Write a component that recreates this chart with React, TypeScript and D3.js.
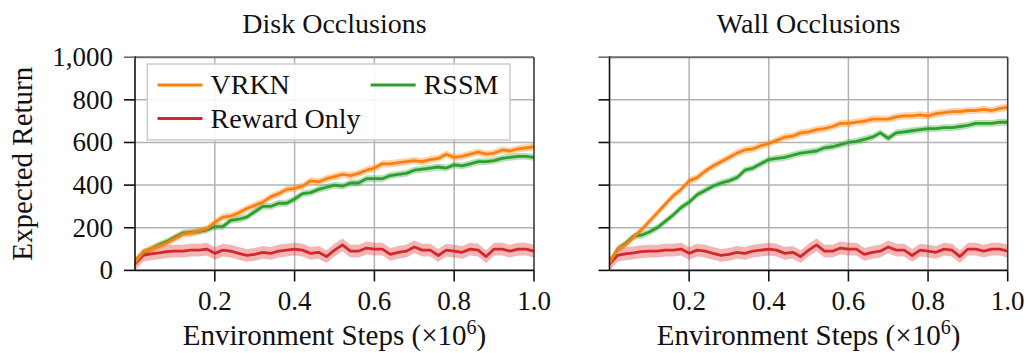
import React, { useEffect, useState } from "react";
import * as d3 from "d3";

const steps = [0, 0.02, 0.04, 0.06, 0.08, 0.1, 0.12, 0.14, 0.16, 0.18, 0.2, 0.22, 0.24, 0.26, 0.28, 0.3, 0.32, 0.34, 0.36, 0.38, 0.4, 0.42, 0.44, 0.46, 0.48, 0.5, 0.52, 0.54, 0.56, 0.58, 0.6, 0.62, 0.64, 0.66, 0.68, 0.7, 0.72, 0.74, 0.76, 0.78, 0.8, 0.82, 0.84, 0.86, 0.88, 0.9, 0.92, 0.94, 0.96, 0.98, 1.0];

const diskVRKN = [35, 85, 100, 115, 130, 150, 170, 175, 185, 195, 225, 250, 255, 270, 290, 305, 320, 345, 360, 380, 385, 395, 420, 415, 430, 440, 450, 445, 455, 470, 480, 500, 500, 505, 510, 515, 510, 520, 525, 545, 530, 535, 545, 555, 545, 550, 565, 560, 570, 575, 580];
const diskRSSM = [40, 80, 100, 120, 135, 155, 175, 178, 182, 190, 205, 205, 235, 240, 250, 275, 300, 300, 315, 315, 335, 360, 365, 380, 390, 400, 395, 410, 410, 430, 430, 430, 445, 450, 455, 470, 475, 480, 485, 480, 495, 490, 500, 510, 510, 515, 525, 530, 535, 535, 530];
const rewardOnly = [30, 70, 78, 82, 88, 90, 90, 95, 95, 100, 80, 95, 90, 80, 70, 75, 85, 80, 90, 95, 100, 95, 80, 85, 65, 95, 120, 90, 90, 105, 100, 100, 75, 85, 90, 110, 95, 95, 70, 95, 90, 85, 100, 95, 65, 100, 100, 90, 100, 100, 90];

const wallVRKN = [35, 100, 120, 155, 190, 230, 270, 310, 350, 380, 420, 435, 465, 490, 510, 530, 550, 565, 570, 585, 595, 610, 625, 630, 645, 650, 660, 665, 675, 690, 690, 695, 700, 710, 710, 710, 720, 725, 725, 730, 725, 735, 740, 745, 745, 750, 750, 755, 750, 760, 765];
const wallRSSM = [35, 100, 125, 160, 165, 180, 200, 230, 260, 295, 320, 355, 375, 395, 410, 420, 435, 470, 480, 500, 520, 525, 530, 540, 550, 555, 560, 575, 580, 590, 600, 605, 615, 625, 645, 620, 645, 650, 655, 660, 665, 665, 670, 670, 675, 680, 690, 690, 690, 695, 695];

const spreadVRKN = 17;
const spreadRSSM = 16;
const spreadReward = 30;

const yTicks = [0, 200, 400, 600, 800, 1000];
const xTicks = [0.2, 0.4, 0.6, 0.8, 1.0];

const COLORS = { VRKN: "#ff7f0e", RSSM: "#2ca02c", Reward: "#d62728" };
const FONT = "Times New Roman";

type Series = { name: string; values: number[]; spread: number; color: string };

const panels: { title: string; series: Series[]; x0: number; x1: number }[] = [
  {
    title: "Disk Occlusions",
    x0: 135,
    x1: 534,
    series: [
      { name: "Reward Only", values: rewardOnly, spread: spreadReward, color: COLORS.Reward },
      { name: "RSSM", values: diskRSSM, spread: spreadRSSM, color: COLORS.RSSM },
      { name: "VRKN", values: diskVRKN, spread: spreadVRKN, color: COLORS.VRKN },
    ],
  },
  {
    title: "Wall Occlusions",
    x0: 609.5,
    x1: 1007.7,
    series: [
      { name: "Reward Only", values: rewardOnly, spread: spreadReward, color: COLORS.Reward },
      { name: "RSSM", values: wallRSSM, spread: spreadRSSM, color: COLORS.RSSM },
      { name: "VRKN", values: wallVRKN, spread: spreadVRKN, color: COLORS.VRKN },
    ],
  },
];

const Y_TOP = 57.2;
const Y_BOT = 270.4;

function Panel({ p, idx }: { p: (typeof panels)[0]; idx: number }) {
  const x = d3.scaleLinear().domain([0, 1]).range([p.x0, p.x1]);
  const y = d3.scaleLinear().domain([0, 1000]).range([Y_BOT, Y_TOP]);
  const clipId = `clip${idx}`;
  const line = d3
    .line<number>()
    .x((_, i) => x(steps[i]))
    .y((d) => y(d));
  const area = (s: Series) =>
    d3
      .area<number>()
      .x((_, i) => x(steps[i]))
      .y0((d) => y(d - s.spread))
      .y1((d) => y(d + s.spread))(s.values) as string;
  const cx = (p.x0 + p.x1) / 2;
  return (
    <g>
      <defs>
        <clipPath id={clipId}>
          <rect x={p.x0} y={Y_TOP} width={p.x1 - p.x0} height={Y_BOT - Y_TOP} />
        </clipPath>
      </defs>
      {yTicks.slice(1, -1).map((t) => (
        <line key={"gy" + t} x1={p.x0} x2={p.x1} y1={y(t)} y2={y(t)} stroke="#b3b3b3" strokeWidth={1.5} />
      ))}
      {xTicks.slice(0, -1).map((t) => (
        <line key={"gx" + t} x1={x(t)} x2={x(t)} y1={Y_TOP} y2={Y_BOT} stroke="#b3b3b3" strokeWidth={1.5} />
      ))}
      <g clipPath={`url(#${clipId})`}>
        {p.series.map((s) => (
          <path key={"a" + s.name} d={area(s)} fill={s.color} opacity={0.34} stroke="none" />
        ))}
        {p.series.map((s) => (
          <path key={"l" + s.name} d={line(s.values) as string} fill="none" stroke={s.color} strokeWidth={2.8} strokeLinejoin="round" />
        ))}
      </g>
      <line x1={p.x0} x2={p.x1} y1={Y_TOP} y2={Y_TOP} stroke="#6b6b6b" strokeWidth={2} />
      <line x1={p.x1} x2={p.x1} y1={Y_TOP} y2={Y_BOT} stroke="#3a3a3a" strokeWidth={1.6} />
      <line x1={p.x0} x2={p.x0} y1={Y_TOP - 1} y2={Y_BOT} stroke="#111" strokeWidth={1.6} />
      <line x1={p.x0} x2={p.x1} y1={Y_BOT} y2={Y_BOT} stroke="#111" strokeWidth={1.6} />
      {yTicks.map((t) => (
        <g key={"yt" + t}>
          <line x1={p.x0 - 11} x2={p.x0} y1={y(t)} y2={y(t)} stroke={t === 1000 ? "#6b6b6b" : "#111"} strokeWidth={1.6} />
          {idx === 0 && (
            <text x={p.x0 - 22} y={y(t) + 9} textAnchor="end" fontFamily={FONT} fontSize={27} fill="#111">
              {d3.format(",")(t)}
            </text>
          )}
        </g>
      ))}
      {xTicks.map((t) => (
        <g key={"xt" + t}>
          <line x1={x(t)} x2={x(t)} y1={Y_BOT} y2={Y_BOT + 11} stroke="#111" strokeWidth={1.6} />
          <text x={x(t)} y={309.5} textAnchor="middle" fontFamily={FONT} fontSize={27} fill="#111">
            {d3.format(".1f")(t)}
          </text>
        </g>
      ))}
      <text x={cx} y={33} textAnchor="middle" fontFamily={FONT} fontSize={28} fill="#111">
        {p.title}
      </text>
      <text x={cx} y={345} textAnchor="middle" fontFamily={FONT} fontSize={29} fill="#111">
        Environment Steps (×10
        <tspan dy={-11} fontSize={20}>6</tspan>
        <tspan dy={11}>)</tspan>
      </text>
    </g>
  );
}

function Legend() {
  const items = [
    { name: "VRKN", color: COLORS.VRKN, lx: 157.5, ly: 85 },
    { name: "RSSM", color: COLORS.RSSM, lx: 370.7, ly: 85 },
    { name: "Reward Only", color: COLORS.Reward, lx: 157.5, ly: 118.5 },
  ];
  return (
    <g>
      <rect x={147.3} y={64} width={362.7} height={76} fill="white" fillOpacity={0.88} stroke="#cccccc" strokeWidth={1.5} />
      {items.map((it) => (
        <g key={it.name}>
          <line x1={it.lx} x2={it.lx + 45} y1={it.ly} y2={it.ly} stroke={it.color} strokeWidth={2.8} />
          <text x={it.lx + 53} y={it.ly + 9} fontFamily={FONT} fontSize={28} fill="#111">
            {it.name}
          </text>
        </g>
      ))}
    </g>
  );
}

export default function App() {
  const [gen, setGen] = useState(0);
  useEffect(() => {
    const fonts = (document as any).fonts;
    if (!fonts) return;
    const sizes = [20, 27, 28, 29];
    Promise.all(sizes.map((s) => fonts.load(`${s}px "${FONT}"`).catch(() => null)))
      .then(() => fonts.ready)
      .then(() => setGen((g) => g + 1))
      .catch(() => null);
  }, []);
  return (
    <svg key={gen} width={1026} height={353} fontFamily={FONT} style={{ position: "absolute", left: 0, top: 0, background: "white" }}>
      <rect x={0} y={0} width={1026} height={353} fill="white" />
      {panels.map((p, i) => (
        <Panel key={p.title} p={p} idx={i} />
      ))}
      <Legend />
      <text
        transform={`translate(31.5, ${(Y_TOP + Y_BOT) / 2}) rotate(-90)`}
        textAnchor="middle"
        fontFamily={FONT}
        fontSize={29}
        fill="#111"
      >
        Expected Return
      </text>
    </svg>
  );
}
